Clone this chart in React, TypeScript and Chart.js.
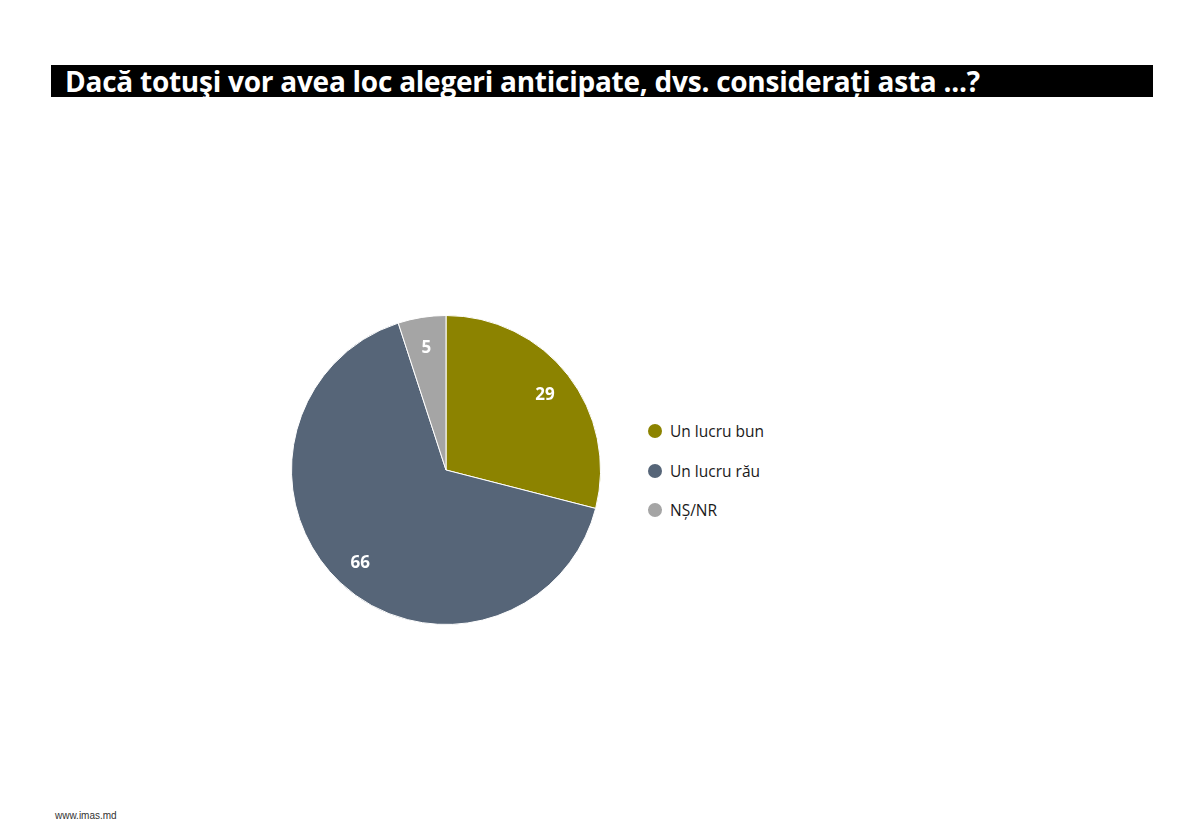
import React, { useEffect, useRef } from "react";
import { Chart, registerables } from "chart.js";

Chart.register(...registerables);

const TITLE = "Dacă totuşi vor avea loc alegeri anticipate, dvs. considerați asta ...?";
const categories = ["Un lucru bun", "Un lucru rău", "NȘ/NR"];
const values = [29, 66, 5];
const colors = ["#8C8300", "#566578", "#A5A5A5"];
const FOOTER = "www.imas.md";

const labelPlugin = {
  id: "sliceLabels",
  afterDatasetsDraw(chart: any) {
    const ctx = chart.ctx;
    const meta = chart.getDatasetMeta(0);
    ctx.save();
    ctx.fillStyle = "#ffffff";
    ctx.font = "bold 17px 'Open Sans', sans-serif";
    ctx.textAlign = "center";
    ctx.textBaseline = "middle";
    meta.data.forEach((arc: any, i: number) => {
      const p = arc.getProps(["x", "y", "startAngle", "endAngle", "outerRadius"], true);
      const mid = (p.startAngle + p.endAngle) / 2;
      const r = p.outerRadius * 0.81;
      ctx.fillText(String(values[i]), p.x + Math.cos(mid) * r, p.y + Math.sin(mid) * r + 2);
    });
    ctx.restore();
  },
};

export default function App() {
  const ref = useRef<HTMLCanvasElement>(null);
  useEffect(() => {
    if (!ref.current) return;
    const chart = new Chart(ref.current, {
      type: "pie",
      data: {
        labels: categories,
        datasets: [
          {
            data: values,
            backgroundColor: colors,
            borderColor: "#ffffff",
            borderWidth: 1,
            hoverOffset: 0,
          },
        ],
      },
      options: {
        responsive: false,
        animation: false,
        layout: { padding: 5 },
        plugins: { legend: { display: false }, tooltip: { enabled: false } },
      },
      plugins: [labelPlugin],
    });
    return () => chart.destroy();
  }, []);

  return (
    <div
      style={{
        position: "absolute",
        left: 0,
        top: 0,
        width: 1195,
        height: 832,
        background: "#fff",
        fontFamily: "'Open Sans', sans-serif",
        overflow: "hidden",
      }}
    >
      <div
        style={{
          position: "absolute",
          left: 51,
          top: 65,
          width: 1102,
          height: 32,
          background: "#000",
          color: "#fff",
          fontWeight: 700,
          fontSize: 28,
          lineHeight: "32px",
          paddingLeft: 14,
          boxSizing: "border-box",
          whiteSpace: "nowrap",
          letterSpacing: -0.25,
        }}
      >
        {TITLE}
      </div>
      <canvas
        ref={ref}
        width={320}
        height={320}
        style={{ position: "absolute", left: 286, top: 310, width: 320, height: 320 }}
      />
      <div style={{ position: "absolute", left: 648, top: 420 }}>
        {categories.map((c, i) => (
          <div
            key={c}
            style={{
              display: "flex",
              alignItems: "center",
              height: 22,
              marginBottom: 17.5,
              fontSize: 15.5,
              color: "#1a1a1a",
            }}
          >
            <span
              style={{
                display: "inline-block",
                width: 14,
                height: 14,
                borderRadius: "50%",
                background: colors[i],
                marginRight: 8,
              }}
            />
            {c}
          </div>
        ))}
      </div>
      <div style={{ position: "absolute", left: 55, top: 810, fontSize: 10, color: "#333", fontFamily: "'Liberation Sans', Arial, sans-serif" }}>
        {FOOTER}
      </div>
    </div>
  );
}
